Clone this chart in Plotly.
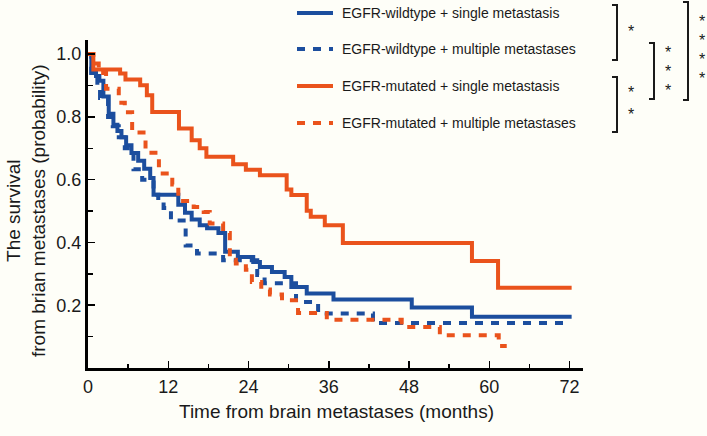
import plotly.graph_objects as go

# ---------------- data (months, survival probability) ----------------
series_names = [
    "EGFR-wildtype + single metastasis",
    "EGFR-wildtype + multiple metastases",
    "EGFR-mutated + single metastasis",
    "EGFR-mutated + multiple metastases",
]

wt_single_t = [0, 0.5, 1.2, 1.7, 2.3, 3.1, 3.8, 4.4, 5.0, 5.7, 6.5, 7.5, 8.4, 9.3, 9.8,
               13.5, 14.5, 15.5, 16.7, 17.8, 19.5, 20.5, 22.4, 24.7, 25.7, 27.5, 29.4,
               30.4, 32.7, 36.7, 48.4, 57.4, 72.3]
wt_single_s = [1.0, 0.94, 0.93, 0.915, 0.865, 0.81, 0.775, 0.755, 0.735, 0.71, 0.685, 0.66,
               0.635, 0.605, 0.552, 0.52, 0.495, 0.473, 0.455, 0.445, 0.43, 0.37, 0.354,
               0.338, 0.322, 0.306, 0.29, 0.258, 0.237, 0.218, 0.193, 0.163, 0.163]

wt_multi_t = [0, 0.5, 1.4, 1.8, 3.0, 3.7, 4.6, 5.5, 6.8, 8.1, 9.8, 10.5, 11.3, 12.4, 14.6,
              16.3, 20.2, 25.3, 26.4, 31.1, 34.4, 42.6, 72.2]
wt_multi_s = [1.0, 0.93, 0.89, 0.86, 0.80, 0.77, 0.735, 0.70, 0.633, 0.60, 0.552, 0.534,
              0.51, 0.47, 0.39, 0.365, 0.343, 0.296, 0.27, 0.21, 0.174, 0.143, 0.143]

mut_single_t = [0, 0.8, 4.8, 5.6, 7.8, 8.8, 9.6, 13.6, 15.5, 16.7, 17.7, 21.7, 23.6, 25.7,
                29.7, 30.4, 32.7, 33.3, 35.4, 38.1, 57.4, 61.3, 72.3]
mut_single_s = [1.0, 0.951, 0.938, 0.919, 0.901, 0.869, 0.816, 0.763, 0.726, 0.70, 0.673,
                0.649, 0.632, 0.614, 0.569, 0.551, 0.501, 0.482, 0.455, 0.398, 0.341,
                0.256, 0.256]

mut_multi_t = [0, 0.8, 1.6, 2.7, 4.6, 5.5, 6.6, 8.6, 10.6, 12.6, 13.5, 15.8, 17.3, 18.2,
               20.2, 21.2, 22.1, 23.6, 24.5, 25.9, 27.2, 29.0, 31.4, 35.7, 46.9, 52.6,
               61.4, 62.6]
mut_multi_s = [1.0, 0.97, 0.94, 0.89, 0.845, 0.815, 0.75, 0.686, 0.62, 0.585, 0.532, 0.513,
               0.497, 0.46, 0.43, 0.345, 0.333, 0.313, 0.274, 0.25, 0.234, 0.216, 0.175,
               0.154, 0.131, 0.104, 0.07, 0.07]

x_tick_vals = [0, 12, 24, 36, 48, 60, 72]
x_tick_text = ["0", "12", "24", "36", "48", "60", "72"]
y_tick_vals = [0.2, 0.4, 0.6, 0.8, 1.0]
y_tick_text = ["0.2", "0.4", "0.6", "0.8", "1.0"]

# significance brackets: (top px, bottom px, vertical x px, star y px list)
brackets = [
    (5, 60, 617, [28]),
    (77, 132, 617, [88, 110]),
    (43, 99, 654, [48, 67, 86]),
    (2, 100, 688, [17, 36, 55, 74]),
]

# ---------------- styling ----------------
BLUE = "#1C4E9E"
ORANGE = "#EA531C"
BG = "#FEFEF8"
TXT = "#1a1a1a"
FONT = "Liberation Sans, Arial, sans-serif"
W, H = 707, 436
ML, MR, MT, MB = 88, 124, 40, 68
PW, PH = W - ML - MR, H - MT - MB


def pxx(x):
    return (x - ML) / PW


def pxy(y):
    return (H - MB - y) / PH


styles = [
    dict(color=BLUE, dash="solid"),
    dict(color=BLUE, dash="8px,8px"),
    dict(color=ORANGE, dash="solid"),
    dict(color=ORANGE, dash="8px,8px"),
]
data = [
    (wt_single_t, wt_single_s),
    (wt_multi_t, wt_multi_s),
    (mut_single_t, mut_single_s),
    (mut_multi_t, mut_multi_s),
]

fig = go.Figure()
for name, (t, s), st in zip(series_names, data, styles):
    fig.add_trace(go.Scatter(
        x=t, y=s, mode="lines", name=name, line_shape="hv",
        line=dict(color=st["color"], width=4, dash=st["dash"]),
        showlegend=False, hoverinfo="skip",
    ))

shapes = []
annotations = []

# manual legend
legend_rows = [13, 49, 86, 123]
for name, st, yrow in zip(series_names, styles, legend_rows):
    shapes.append(dict(type="line", xref="paper", yref="paper",
                       x0=pxx(297), x1=pxx(333), y0=pxy(yrow), y1=pxy(yrow),
                       line=dict(color=st["color"], width=4, dash=st["dash"])))
    annotations.append(dict(xref="paper", yref="paper", x=pxx(340), y=pxy(yrow),
                            xanchor="left", yanchor="middle", text=name, showarrow=False,
                            font=dict(family=FONT, size=14, color=TXT)))

# significance brackets
for top, bot, vx, stars in brackets:
    path = "M {a},{b} L {c},{b} L {c},{d} L {a},{d}".format(
        a=pxx(vx - 5), b=pxy(top), c=pxx(vx), d=pxy(bot))
    shapes.append(dict(type="path", xref="paper", yref="paper", path=path,
                       line=dict(color=TXT, width=2)))
    sx = vx + 14
    for sy in stars:
        annotations.append(dict(xref="paper", yref="paper", x=pxx(sx), y=pxy(sy + 4),
                                xanchor="center", yanchor="middle", text="*",
                                showarrow=False, font=dict(family=FONT, size=16, color=TXT)))

# axis titles
annotations.append(dict(xref="paper", yref="paper", x=pxx(336), y=pxy(411),
                        xanchor="center", yanchor="middle", showarrow=False,
                        text="Time from brain metastases (months)",
                        font=dict(family=FONT, size=19, color=TXT)))
annotations.append(dict(xref="paper", yref="paper", x=pxx(26), y=pxy(211),
                        xanchor="center", yanchor="middle", showarrow=False, textangle=-90,
                        align="center",
                        text="The survival<br>from brian metastases (probability)",
                        font=dict(family=FONT, size=19, color=TXT)))

fig.update_layout(
    width=W, height=H,
    margin=dict(l=ML, r=MR, t=MT, b=MB, pad=0),
    paper_bgcolor=BG, plot_bgcolor=BG,
    showlegend=False,
    shapes=shapes, annotations=annotations,
    font=dict(family=FONT, color=TXT),
)
fig.update_xaxes(
    range=[0, 74], showgrid=False, zeroline=False,
    showline=True, linewidth=3, linecolor="black",
    tickmode="array", tickvals=x_tick_vals, ticktext=x_tick_text,
    ticks="inside", ticklen=7, tickwidth=1.5, tickcolor="black",
    minor=dict(ticks="inside", ticklen=4, tickwidth=1.5, tickcolor="black",
               tickvals=[6, 18, 30, 42, 54, 66]),
    tickfont=dict(family=FONT, size=18, color=TXT),
)
fig.update_yaxes(
    range=[0, 1.045], showgrid=False, zeroline=False,
    showline=True, linewidth=3, linecolor="black",
    tickmode="array", tickvals=y_tick_vals, ticktext=y_tick_text,
    ticks="inside", ticklen=7, tickwidth=1.5, tickcolor="black",
    minor=dict(ticks="inside", ticklen=5, tickwidth=1.5, tickcolor="black",
               tickvals=[0.1, 0.3, 0.5, 0.7, 0.9]),
    tickfont=dict(family=FONT, size=18, color=TXT),
)

fig.write_html(
    "out.html",
    config={"displayModeBar": False, "staticPlot": True},
    post_script="document.body.style.margin='0';document.body.style.padding='0';"
                "document.body.style.background='" + BG + "';",
)
